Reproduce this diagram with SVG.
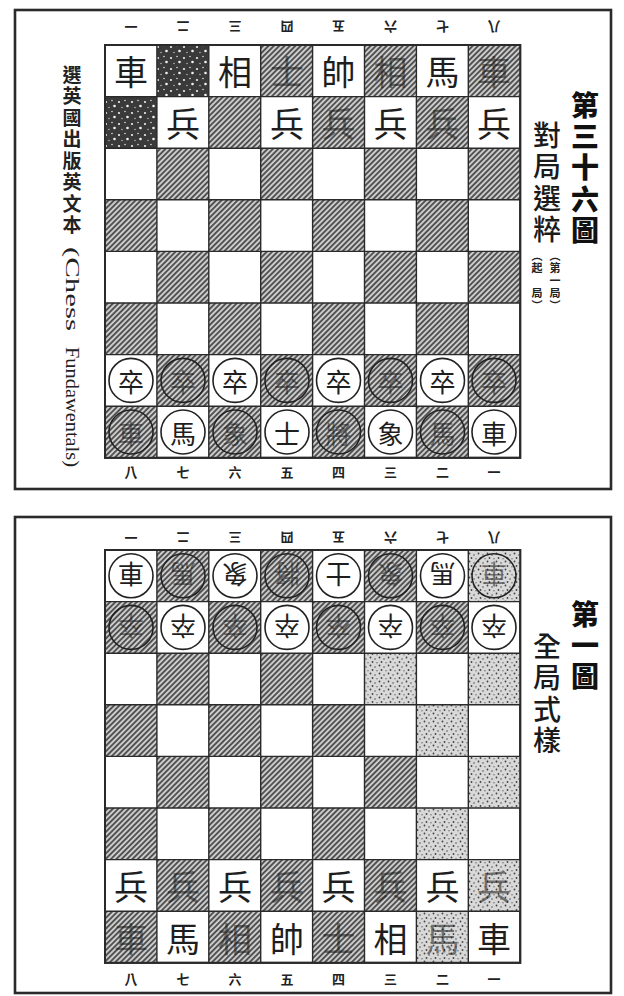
<svg xmlns="http://www.w3.org/2000/svg" width="624" height="996" viewBox="0 0 624 996">
<defs>
<pattern id="hatch" patternUnits="userSpaceOnUse" width="3.8" height="3.8" patternTransform="rotate(45)">
<rect width="3.8" height="3.8" fill="#cccccc"/>
<line x1="1.9" y1="0" x2="1.9" y2="3.8" stroke="#3a3a3a" stroke-width="1.6"/>
</pattern>
<pattern id="dk" patternUnits="userSpaceOnUse" width="13" height="11">
<rect width="13" height="11" fill="#3a3a3a"/>
<circle cx="2" cy="3" r="1.1" fill="#eee"/>
<circle cx="8" cy="1.5" r="0.8" fill="#ddd"/>
<circle cx="10.5" cy="7" r="1.3" fill="#f2f2f2"/>
<circle cx="5" cy="8.5" r="0.7" fill="#ccc"/>
</pattern>
<pattern id="sp" patternUnits="userSpaceOnUse" width="9" height="8">
<rect width="9" height="8" fill="#d8d8d8"/>
<circle cx="1.5" cy="1.5" r="0.9" fill="#444"/>
<circle cx="6" cy="3" r="0.8" fill="#555"/>
<circle cx="3.5" cy="6" r="0.9" fill="#444"/>
<circle cx="8" cy="6.8" r="0.7" fill="#666"/>
</pattern>
<style>
.frame{fill:#fff;stroke:#2a2a2a;stroke-width:2.6}
.board{fill:#fff;stroke:#2a2a2a;stroke-width:2}
.grid{fill:none;stroke:#2a2a2a;stroke-width:1.4}
.d{fill:url(#hatch)}
.k{fill:url(#dk)}
.s{fill:url(#sp)}
.p{font-family:"Noto Sans CJK TC","Noto Sans CJK SC",sans-serif;font-size:34px;text-anchor:middle;dominant-baseline:central;fill:#1e1e1e}
.cp{font-family:"Noto Sans CJK TC","Noto Sans CJK SC",sans-serif;font-size:26px;text-anchor:middle;dominant-baseline:central;fill:#1e1e1e}
.f{fill:#1a1a1a;opacity:.55}
.ring{fill:none;stroke:#222;stroke-width:1.6}
.lab{font-family:"Noto Sans CJK TC","Noto Sans CJK SC",sans-serif;font-size:13px;font-weight:700;text-anchor:middle;dominant-baseline:central;fill:#222}
.v{writing-mode:vertical-rl;text-anchor:start;font-family:"Noto Sans CJK TC","Noto Sans CJK SC",sans-serif}
.t1{font-size:28px;font-weight:900;fill:#111;letter-spacing:3.4px}
.t2{font-size:28px;font-weight:500;fill:#1a1a1a;letter-spacing:3.6px}
.t3{font-size:11px;font-weight:700;fill:#222;letter-spacing:1.5px}
.lv{font-size:19px;font-weight:700;fill:#222;letter-spacing:2.5px}
.lat{font-family:"Liberation Serif",serif;font-size:19px;fill:#222}
</style>
</defs>
<rect width="624" height="996" fill="#fff"/>

<!-- ============ TOP FIGURE ============ -->
<g id="fig36">
<rect class="frame" x="15" y="10" width="596" height="479"/>

<g id="fig36-title">
<text class="v t1" x="585" y="91">第三十六圖</text>
<text class="v t2" x="547" y="121">對局選粹</text>
<text class="v t3" x="555" y="250">（第一局）</text>
<text class="v t3" x="537" y="250">（起　局）</text>
</g>

<g id="fig36-source">
<text class="v lv" x="72" y="65">選英國出版英文本</text>
<text class="lat" transform="translate(65.5,247) rotate(90)" textLength="84" lengthAdjust="spacingAndGlyphs">(Chess</text>
<text class="lat" transform="translate(65.5,347) rotate(90)" textLength="120" lengthAdjust="spacingAndGlyphs">Fundawentals)</text>
</g>

<g id="board36">
<rect class="board" x="105" y="45" width="415.2" height="412.8"/>
<g id="board36-dark">
<rect class="k" x="156.9" y="45" width="51.9" height="51.6"/>
<rect class="d" x="260.7" y="45" width="51.9" height="51.6"/>
<rect class="d" x="364.5" y="45" width="51.9" height="51.6"/>
<rect class="d" x="468.3" y="45" width="51.9" height="51.6"/>
<rect class="k" x="105" y="96.6" width="51.9" height="51.6"/>
<rect class="d" x="208.8" y="96.6" width="51.9" height="51.6"/>
<rect class="d" x="312.6" y="96.6" width="51.9" height="51.6"/>
<rect class="d" x="416.4" y="96.6" width="51.9" height="51.6"/>
<rect class="d" x="156.9" y="148.2" width="51.9" height="51.6"/>
<rect class="d" x="260.7" y="148.2" width="51.9" height="51.6"/>
<rect class="d" x="364.5" y="148.2" width="51.9" height="51.6"/>
<rect class="d" x="468.3" y="148.2" width="51.9" height="51.6"/>
<rect class="d" x="105" y="199.8" width="51.9" height="51.6"/>
<rect class="d" x="208.8" y="199.8" width="51.9" height="51.6"/>
<rect class="d" x="312.6" y="199.8" width="51.9" height="51.6"/>
<rect class="d" x="416.4" y="199.8" width="51.9" height="51.6"/>
<rect class="d" x="156.9" y="251.4" width="51.9" height="51.6"/>
<rect class="d" x="260.7" y="251.4" width="51.9" height="51.6"/>
<rect class="d" x="364.5" y="251.4" width="51.9" height="51.6"/>
<rect class="d" x="468.3" y="251.4" width="51.9" height="51.6"/>
<rect class="d" x="105" y="303" width="51.9" height="51.6"/>
<rect class="d" x="208.8" y="303" width="51.9" height="51.6"/>
<rect class="d" x="312.6" y="303" width="51.9" height="51.6"/>
<rect class="d" x="416.4" y="303" width="51.9" height="51.6"/>
<rect class="d" x="156.9" y="354.6" width="51.9" height="51.6"/>
<rect class="d" x="260.7" y="354.6" width="51.9" height="51.6"/>
<rect class="d" x="364.5" y="354.6" width="51.9" height="51.6"/>
<rect class="d" x="468.3" y="354.6" width="51.9" height="51.6"/>
<rect class="d" x="105" y="406.2" width="51.9" height="51.6"/>
<rect class="d" x="208.8" y="406.2" width="51.9" height="51.6"/>
<rect class="d" x="312.6" y="406.2" width="51.9" height="51.6"/>
<rect class="d" x="416.4" y="406.2" width="51.9" height="51.6"/>
</g>
<path class="grid" d="M156.9 45V457.8M208.8 45V457.8M260.7 45V457.8M312.6 45V457.8M364.5 45V457.8M416.4 45V457.8M468.3 45V457.8M105 96.6H520.2M105 148.2H520.2M105 199.8H520.2M105 251.4H520.2M105 303H520.2M105 354.6H520.2M105 406.2H520.2"/>
<rect x="105" y="45" width="415.2" height="412.8" style="fill:none;stroke:#2a2a2a;stroke-width:2"/>

<g id="board36-labels">
<text class="lab" transform="rotate(180 131 27)" x="131" y="27">一</text>
<text class="lab" transform="rotate(180 183 27)" x="183" y="27">二</text>
<text class="lab" transform="rotate(180 235 27)" x="235" y="27">三</text>
<text class="lab" transform="rotate(180 287 27)" x="287" y="27">四</text>
<text class="lab" transform="rotate(180 338.5 27)" x="338.5" y="27">五</text>
<text class="lab" transform="rotate(180 390.5 27)" x="390.5" y="27">六</text>
<text class="lab" transform="rotate(180 442.5 27)" x="442.5" y="27">七</text>
<text class="lab" transform="rotate(180 494 27)" x="494" y="27">八</text>
<text class="lab" x="131" y="471">八</text>
<text class="lab" x="183" y="471">七</text>
<text class="lab" x="235" y="471">六</text>
<text class="lab" x="287" y="471">五</text>
<text class="lab" x="338.5" y="471">四</text>
<text class="lab" x="390.5" y="471">三</text>
<text class="lab" x="442.5" y="471">二</text>
<text class="lab" x="494" y="471">一</text>
</g>

<g id="board36-red">
<g id="t-r1"><text class="p" x="131" y="70.8">車</text></g>
<g id="t-r3"><text class="p" x="235" y="70.8">相</text></g>
<g id="t-r4"><text class="p f" x="287" y="70.8">士</text></g>
<g id="t-r5"><text class="p" x="338.5" y="70.8">帥</text></g>
<g id="t-r6"><text class="p f" x="390.5" y="70.8">相</text></g>
<g id="t-r7"><text class="p" x="442.5" y="70.8">馬</text></g>
<g id="t-r8"><text class="p f" x="494" y="70.8">車</text></g>
<g id="t-p2"><text class="p" x="183" y="122.4">兵</text></g>
<g id="t-p4"><text class="p" x="287" y="122.4">兵</text></g>
<g id="t-p5"><text class="p f" x="338.5" y="122.4">兵</text></g>
<g id="t-p6"><text class="p" x="390.5" y="122.4">兵</text></g>
<g id="t-p7"><text class="p f" x="442.5" y="122.4">兵</text></g>
<g id="t-p8"><text class="p" x="494" y="122.4">兵</text></g>
</g>

<g id="board36-black">
<g id="t-z1"><circle class="ring" cx="131" cy="380.4" r="22"/><text class="cp" x="131" y="380.4">卒</text></g>
<g id="t-z2"><circle class="ring" cx="183" cy="380.4" r="22"/><text class="cp f" x="183" y="380.4">卒</text></g>
<g id="t-z3"><circle class="ring" cx="235" cy="380.4" r="22"/><text class="cp" x="235" y="380.4">卒</text></g>
<g id="t-z4"><circle class="ring" cx="287" cy="380.4" r="22"/><text class="cp f" x="287" y="380.4">卒</text></g>
<g id="t-z5"><circle class="ring" cx="338.5" cy="380.4" r="22"/><text class="cp" x="338.5" y="380.4">卒</text></g>
<g id="t-z6"><circle class="ring" cx="390.5" cy="380.4" r="22"/><text class="cp f" x="390.5" y="380.4">卒</text></g>
<g id="t-z7"><circle class="ring" cx="442.5" cy="380.4" r="22"/><text class="cp" x="442.5" y="380.4">卒</text></g>
<g id="t-z8"><circle class="ring" cx="494" cy="380.4" r="22"/><text class="cp f" x="494" y="380.4">卒</text></g>
<g id="t-b1"><circle class="ring" cx="131" cy="432" r="22"/><text class="cp f" x="131" y="432">車</text></g>
<g id="t-b2"><circle class="ring" cx="183" cy="432" r="22"/><text class="cp" x="183" y="432">馬</text></g>
<g id="t-b3"><circle class="ring" cx="235" cy="432" r="22"/><text class="cp f" x="235" y="432">象</text></g>
<g id="t-b4"><circle class="ring" cx="287" cy="432" r="22"/><text class="cp" x="287" y="432">士</text></g>
<g id="t-b5"><circle class="ring" cx="338.5" cy="432" r="22"/><text class="cp f" x="338.5" y="432">將</text></g>
<g id="t-b6"><circle class="ring" cx="390.5" cy="432" r="22"/><text class="cp" x="390.5" y="432">象</text></g>
<g id="t-b7"><circle class="ring" cx="442.5" cy="432" r="22"/><text class="cp f" x="442.5" y="432">馬</text></g>
<g id="t-b8"><circle class="ring" cx="494" cy="432" r="22"/><text class="cp" x="494" y="432">車</text></g>
</g>
</g>
</g>

<!-- ============ BOTTOM FIGURE ============ -->
<g id="fig1">
<rect class="frame" x="15" y="517" width="596" height="476"/>

<g id="fig1-title">
<text class="v t1" x="585" y="600">第一圖</text>
<text class="v t2" x="547" y="632">全局式樣</text>
</g>

<g id="board1">
<rect class="board" x="105" y="550" width="415.2" height="412.8"/>
<g id="board1-dark">
<rect class="d" x="156.9" y="550" width="51.9" height="51.6"/>
<rect class="d" x="260.7" y="550" width="51.9" height="51.6"/>
<rect class="d" x="364.5" y="550" width="51.9" height="51.6"/>
<rect class="s" x="468.3" y="550" width="51.9" height="51.6"/>
<rect class="d" x="105" y="601.6" width="51.9" height="51.6"/>
<rect class="d" x="208.8" y="601.6" width="51.9" height="51.6"/>
<rect class="d" x="312.6" y="601.6" width="51.9" height="51.6"/>
<rect class="d" x="416.4" y="601.6" width="51.9" height="51.6"/>
<rect class="d" x="156.9" y="653.2" width="51.9" height="51.6"/>
<rect class="d" x="260.7" y="653.2" width="51.9" height="51.6"/>
<rect class="s" x="364.5" y="653.2" width="51.9" height="51.6"/>
<rect class="s" x="468.3" y="653.2" width="51.9" height="51.6"/>
<rect class="d" x="105" y="704.8" width="51.9" height="51.6"/>
<rect class="d" x="208.8" y="704.8" width="51.9" height="51.6"/>
<rect class="d" x="312.6" y="704.8" width="51.9" height="51.6"/>
<rect class="s" x="416.4" y="704.8" width="51.9" height="51.6"/>
<rect class="d" x="156.9" y="756.4" width="51.9" height="51.6"/>
<rect class="d" x="260.7" y="756.4" width="51.9" height="51.6"/>
<rect class="d" x="364.5" y="756.4" width="51.9" height="51.6"/>
<rect class="s" x="468.3" y="756.4" width="51.9" height="51.6"/>
<rect class="d" x="105" y="808" width="51.9" height="51.6"/>
<rect class="d" x="208.8" y="808" width="51.9" height="51.6"/>
<rect class="d" x="312.6" y="808" width="51.9" height="51.6"/>
<rect class="s" x="416.4" y="808" width="51.9" height="51.6"/>
<rect class="d" x="156.9" y="859.6" width="51.9" height="51.6"/>
<rect class="d" x="260.7" y="859.6" width="51.9" height="51.6"/>
<rect class="d" x="364.5" y="859.6" width="51.9" height="51.6"/>
<rect class="s" x="468.3" y="859.6" width="51.9" height="51.6"/>
<rect class="d" x="105" y="911.2" width="51.9" height="51.6"/>
<rect class="d" x="208.8" y="911.2" width="51.9" height="51.6"/>
<rect class="d" x="312.6" y="911.2" width="51.9" height="51.6"/>
<rect class="s" x="416.4" y="911.2" width="51.9" height="51.6"/>
</g>
<path class="grid" d="M156.9 550V962.8M208.8 550V962.8M260.7 550V962.8M312.6 550V962.8M364.5 550V962.8M416.4 550V962.8M468.3 550V962.8M105 601.6H520.2M105 653.2H520.2M105 704.8H520.2M105 756.4H520.2M105 808H520.2M105 859.6H520.2M105 911.2H520.2"/>
<rect x="105" y="550" width="415.2" height="412.8" style="fill:none;stroke:#2a2a2a;stroke-width:2"/>

<g id="board1-labels">
<text class="lab" transform="rotate(180 131 538)" x="131" y="538">一</text>
<text class="lab" transform="rotate(180 183 538)" x="183" y="538">二</text>
<text class="lab" transform="rotate(180 235 538)" x="235" y="538">三</text>
<text class="lab" transform="rotate(180 287 538)" x="287" y="538">四</text>
<text class="lab" transform="rotate(180 338.5 538)" x="338.5" y="538">五</text>
<text class="lab" transform="rotate(180 390.5 538)" x="390.5" y="538">六</text>
<text class="lab" transform="rotate(180 442.5 538)" x="442.5" y="538">七</text>
<text class="lab" transform="rotate(180 494 538)" x="494" y="538">八</text>
<text class="lab" x="131" y="978">八</text>
<text class="lab" x="183" y="978">七</text>
<text class="lab" x="235" y="978">六</text>
<text class="lab" x="287" y="978">五</text>
<text class="lab" x="338.5" y="978">四</text>
<text class="lab" x="390.5" y="978">三</text>
<text class="lab" x="442.5" y="978">二</text>
<text class="lab" x="494" y="978">一</text>
</g>

<g id="board1-black">
<g id="b-b1" transform="rotate(180 131 575.8)"><circle class="ring" cx="131" cy="575.8" r="22"/><text class="cp" x="131" y="575.8">車</text></g>
<g id="b-b2" transform="rotate(180 183 575.8)"><circle class="ring" cx="183" cy="575.8" r="22"/><text class="cp f" x="183" y="575.8">馬</text></g>
<g id="b-b3" transform="rotate(180 235 575.8)"><circle class="ring" cx="235" cy="575.8" r="22"/><text class="cp" x="235" y="575.8">象</text></g>
<g id="b-b4" transform="rotate(180 287 575.8)"><circle class="ring" cx="287" cy="575.8" r="22"/><text class="cp f" x="287" y="575.8">將</text></g>
<g id="b-b5" transform="rotate(180 338.5 575.8)"><circle class="ring" cx="338.5" cy="575.8" r="22"/><text class="cp" x="338.5" y="575.8">士</text></g>
<g id="b-b6" transform="rotate(180 390.5 575.8)"><circle class="ring" cx="390.5" cy="575.8" r="22"/><text class="cp f" x="390.5" y="575.8">象</text></g>
<g id="b-b7" transform="rotate(180 442.5 575.8)"><circle class="ring" cx="442.5" cy="575.8" r="22"/><text class="cp" x="442.5" y="575.8">馬</text></g>
<g id="b-b8" transform="rotate(180 494 575.8)"><circle class="ring" cx="494" cy="575.8" r="22"/><text class="cp f" x="494" y="575.8">車</text></g>
<g id="b-z1" transform="rotate(180 131 627.4)"><circle class="ring" cx="131" cy="627.4" r="22"/><text class="cp f" x="131" y="627.4">卒</text></g>
<g id="b-z2" transform="rotate(180 183 627.4)"><circle class="ring" cx="183" cy="627.4" r="22"/><text class="cp" x="183" y="627.4">卒</text></g>
<g id="b-z3" transform="rotate(180 235 627.4)"><circle class="ring" cx="235" cy="627.4" r="22"/><text class="cp f" x="235" y="627.4">卒</text></g>
<g id="b-z4" transform="rotate(180 287 627.4)"><circle class="ring" cx="287" cy="627.4" r="22"/><text class="cp" x="287" y="627.4">卒</text></g>
<g id="b-z5" transform="rotate(180 338.5 627.4)"><circle class="ring" cx="338.5" cy="627.4" r="22"/><text class="cp f" x="338.5" y="627.4">卒</text></g>
<g id="b-z6" transform="rotate(180 390.5 627.4)"><circle class="ring" cx="390.5" cy="627.4" r="22"/><text class="cp" x="390.5" y="627.4">卒</text></g>
<g id="b-z7" transform="rotate(180 442.5 627.4)"><circle class="ring" cx="442.5" cy="627.4" r="22"/><text class="cp f" x="442.5" y="627.4">卒</text></g>
<g id="b-z8" transform="rotate(180 494 627.4)"><circle class="ring" cx="494" cy="627.4" r="22"/><text class="cp" x="494" y="627.4">卒</text></g>
</g>

<g id="board1-red">
<g id="b-p1"><text class="p" x="131" y="885.4">兵</text></g>
<g id="b-p2"><text class="p f" x="183" y="885.4">兵</text></g>
<g id="b-p3"><text class="p" x="235" y="885.4">兵</text></g>
<g id="b-p4"><text class="p f" x="287" y="885.4">兵</text></g>
<g id="b-p5"><text class="p" x="338.5" y="885.4">兵</text></g>
<g id="b-p6"><text class="p f" x="390.5" y="885.4">兵</text></g>
<g id="b-p7"><text class="p" x="442.5" y="885.4">兵</text></g>
<g id="b-p8"><text class="p f" x="494" y="885.4">兵</text></g>
<g id="b-r1"><text class="p f" x="131" y="937">車</text></g>
<g id="b-r2"><text class="p" x="183" y="937">馬</text></g>
<g id="b-r3"><text class="p f" x="235" y="937">相</text></g>
<g id="b-r4"><text class="p" x="287" y="937">帥</text></g>
<g id="b-r5"><text class="p f" x="338.5" y="937">士</text></g>
<g id="b-r6"><text class="p" x="390.5" y="937">相</text></g>
<g id="b-r7"><text class="p f" x="442.5" y="937">馬</text></g>
<g id="b-r8"><text class="p" x="494" y="937">車</text></g>
</g>
</g>
</g>
</svg>
